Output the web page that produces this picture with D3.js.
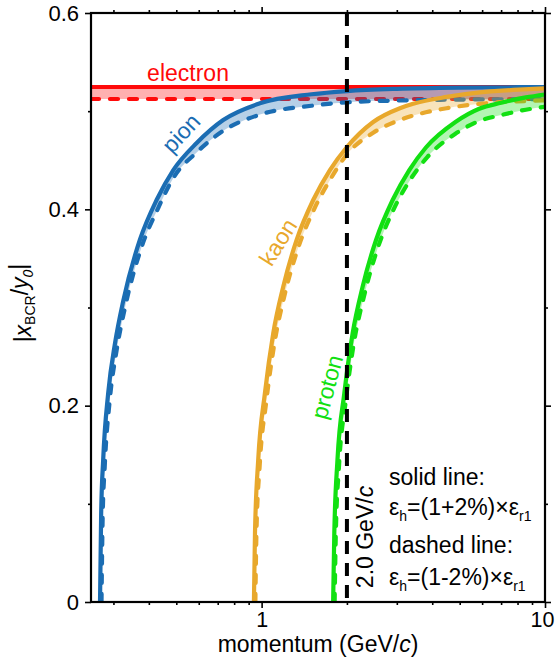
<!DOCTYPE html>
<html>
<head>
<meta charset="utf-8">
<script src="https://d3js.org/d3.v7.min.js"></script>
<style>
  body { margin: 0; background: #fff; }
  svg { display: block; }
  text { font-family: "Liberation Sans", Arial, Helvetica, sans-serif; }
</style>
</head>
<body>
<svg id="chart" width="555" height="659"></svg>
<script>
// ---------------- DATA ----------------
const xDomain = [0.25, 10];
const yDomain = [0, 0.6];

const xMinorTicks = [0.3, 0.4, 0.5, 0.6, 0.7, 0.8, 0.9, 2, 3, 4, 5, 6, 7, 8, 9];
const xMajorTicks = [1, 10];
const xMajorLabels = ["1", "10"];
const yMinorTicks = [0.1, 0.3, 0.5];
const yMajorTicks = [0, 0.2, 0.4, 0.6];
const yMajorLabels = ["0", "0.2", "0.4", "0.6"];

const markerMomentum = 2.0;
const markerLabel = "2.0 GeV/";

const particles = ["electron", "pion", "kaon", "proton"];
const particleColors = ["#ff0a0a", "#1b6db3", "#e8a82c", "#12e012"];

// [momentum GeV/c, |x_BCR/y0|]  solid: eps_h=(1+2%)eps_r1, dashed: eps_h=(1-2%)eps_r1
const electronSolid  = [[0.25, 0.5246], [10, 0.5246]];
const electronDashed = [[0.25, 0.5124], [10, 0.5124]];

const pionSolid = [[0.269,0],[0.2715,0.09],[0.276,0.145],[0.2875,0.213],[0.304,0.264],[0.325,0.307],
  [0.372,0.369],[0.426,0.4095],[0.488,0.440],[0.59,0.4676],[0.732,0.491],[0.986,0.508],[1.5,0.5172],
  [2,0.5205],[3,0.5228],[5,0.524],[10,0.5245]];
const pionDashed = [[0.2723,0],[0.2748,0.085],[0.2795,0.138],[0.291,0.205],[0.3077,0.256],[0.329,0.299],
  [0.3765,0.361],[0.431,0.401],[0.488,0.432],[0.59,0.458],[0.732,0.480],[0.986,0.4965],[1.5,0.5055],
  [2,0.509],[3,0.5108],[5,0.5118],[10,0.5123]];

const kaonSolid = [[0.9394,0],[0.9475,0.07],[0.9727,0.1447],[1.027,0.2126],[1.099,0.2737],[1.192,0.3212],
  [1.329,0.3688],[1.521,0.4095],[1.742,0.440],[1.994,0.463],[2.476,0.489],[3.076,0.503],[3.427,0.5075],
  [4.496,0.5145],[5.891,0.5192],[7.723,0.5216],[10,0.5233]];
const kaonDashed = [[0.9505,0],[0.9588,0.07],[0.9845,0.139],[1.0395,0.205],[1.112,0.265],[1.206,0.313],
  [1.345,0.3605],[1.54,0.4015],[1.76,0.432],[1.994,0.4555],[2.476,0.478],[3.076,0.491],[3.427,0.4955],
  [4.496,0.503],[5.891,0.5075],[7.723,0.5098],[10,0.511]];

const protonSolid = [[1.788,0],[1.805,0.07],[1.852,0.1447],[1.958,0.2126],[2.095,0.2737],[2.272,0.3212],
  [2.534,0.3688],[2.90,0.4095],[3.32,0.440],[3.80,0.463],[4.83,0.489],[5.86,0.5025],[7.0,0.5085],
  [8.56,0.514],[10,0.517]];
const protonDashed = [[1.81,0],[1.827,0.068],[1.875,0.138],[1.982,0.205],[2.12,0.265],[2.30,0.312],
  [2.565,0.360],[2.935,0.401],[3.36,0.431],[3.85,0.4535],[4.83,0.477],[5.86,0.490],[7.0,0.496],
  [8.56,0.5015],[10,0.5045]];

const seriesSolid = [electronSolid, pionSolid, kaonSolid, protonSolid];
const seriesDashed = [electronDashed, pionDashed, kaonDashed, protonDashed];

// ---------------- CHART ----------------
const svg = d3.select("#chart");
const L = 91, R = 545, T = 13, B = 602;
const x = d3.scaleLog().domain(xDomain).range([L, R]);
const y = d3.scaleLinear().domain(yDomain).range([B, T]);

const defs = svg.append("defs");
defs.append("clipPath").attr("id", "plotclip")
  .append("rect").attr("x", L).attr("y", T).attr("width", R - L).attr("height", B - T);

const line = d3.line().x(d => x(d[0])).y(d => y(d[1])).curve(d3.curveMonotoneX);
const under = d3.area().x(d => x(d[0])).y0(B).y1(d => y(d[1])).curve(d3.curveMonotoneX);

const plot = svg.append("g").attr("clip-path", "url(#plotclip)");

particles.forEach((name, i) => {
  const col = particleColors[i];
  const m = defs.append("mask").attr("id", "band-" + name)
    .attr("maskUnits", "userSpaceOnUse")
    .attr("x", 0).attr("y", 0).attr("width", 555).attr("height", 659);
  m.append("path").attr("d", under(seriesSolid[i])).attr("fill", "white");
  m.append("path").attr("d", under(seriesDashed[i])).attr("fill", "black");
  plot.append("rect").attr("x", L).attr("y", T).attr("width", R - L).attr("height", B - T)
    .attr("fill", col).attr("fill-opacity", 0.32).attr("mask", "url(#band-" + name + ")");
  plot.append("path").attr("d", line(seriesSolid[i]))
    .attr("fill", "none").attr("stroke", col).attr("stroke-width", 4.2);
  plot.append("path").attr("d", line(seriesDashed[i]))
    .attr("fill", "none").attr("stroke", col).attr("stroke-width", 4.2)
    .attr("stroke-dasharray", "8,11").attr("stroke-linecap", "round");
});

// vertical 2 GeV/c marker
plot.append("line")
  .attr("x1", x(markerMomentum)).attr("x2", x(markerMomentum))
  .attr("y1", y(yDomain[1])).attr("y2", y(yDomain[0]))
  .attr("stroke", "#000").attr("stroke-width", 4).attr("stroke-dasharray", "13,9");

// axes
function styleAxis(g) {
  g.select(".domain").remove();
  g.selectAll(".tick line").attr("stroke", "#000").attr("stroke-width", 1.6);
  g.selectAll(".tick text").attr("fill", "#000").style("font-size", "22px")
    .style("font-family", '"Liberation Sans", Arial, Helvetica, sans-serif');
}
svg.append("g").attr("transform", `translate(0,${B})`)
  .call(d3.axisBottom(x).tickValues(xMinorTicks).tickSize(3).tickFormat("")).call(styleAxis);
svg.append("g").attr("transform", `translate(0,${B})`)
  .call(d3.axisBottom(x).tickValues(xMajorTicks).tickSize(6).tickPadding(4)
    .tickFormat((d, i) => xMajorLabels[i])).call(styleAxis)
  .selectAll(".tick text").style("font-size", "21.5px").attr("dx", (d, i) => i === 1 ? -3 : 0);
svg.append("g").attr("transform", `translate(0,${T})`)
  .call(d3.axisTop(x).tickValues(xMinorTicks).tickSize(3).tickFormat("")).call(styleAxis);
svg.append("g").attr("transform", `translate(0,${T})`)
  .call(d3.axisTop(x).tickValues(xMajorTicks).tickSize(6).tickFormat("")).call(styleAxis);

svg.append("g").attr("transform", `translate(${L},0)`)
  .call(d3.axisLeft(y).tickValues(yMinorTicks).tickSize(3).tickFormat("")).call(styleAxis);
svg.append("g").attr("transform", `translate(${L},0)`)
  .call(d3.axisLeft(y).tickValues(yMajorTicks).tickSize(6).tickPadding(6)
    .tickFormat((d, i) => yMajorLabels[i])).call(styleAxis);
svg.append("g").attr("transform", `translate(${R},0)`)
  .call(d3.axisRight(y).tickValues(yMinorTicks).tickSize(3).tickFormat("")).call(styleAxis);
svg.append("g").attr("transform", `translate(${R},0)`)
  .call(d3.axisRight(y).tickValues(yMajorTicks).tickSize(6).tickFormat("")).call(styleAxis);

// frame
svg.append("rect").attr("x", L).attr("y", T).attr("width", R - L).attr("height", B - T)
  .attr("fill", "none").attr("stroke", "#000").attr("stroke-width", 2.2);

// axis titles
const xt = svg.append("text").attr("x", (L + R) / 2).attr("y", 652)
  .attr("text-anchor", "middle").style("font-size", "23px");
xt.append("tspan").text("momentum (GeV/");
xt.append("tspan").style("font-style", "italic").text("c");
xt.append("tspan").text(")");

const yt = svg.append("text").attr("transform", "translate(31,303) rotate(-90)")
  .attr("text-anchor", "middle").style("font-size", "23px");
yt.append("tspan").text("|");
yt.append("tspan").style("font-style", "italic").text("x");
yt.append("tspan").attr("dy", "0.3em").style("font-size", "14px").text("BCR");
yt.append("tspan").attr("dy", "-0.3em").text("/");
yt.append("tspan").style("font-style", "italic").text("y");
yt.append("tspan").attr("dy", "0.3em").style("font-size", "14px").style("font-style", "italic").text("0");
yt.append("tspan").attr("dy", "-0.3em").text("|");

// curve labels
const labelPos = [
  {t: "electron", x: 188, y: 81, r: 0},
  {t: "pion", x: 181, y: 133, r: -47},
  {t: "kaon", x: 278, y: 242, r: -58},
  {t: "proton", x: 327, y: 387, r: -75}
];
labelPos.forEach((p, i) => {
  svg.append("text").attr("transform", `translate(${p.x},${p.y}) rotate(${p.r})`)
    .attr("text-anchor", "middle").attr("dy", p.r === 0 ? 0 : "0.35em")
    .attr("fill", particleColors[i]).style("font-size", "23px").text(p.t);
});

// marker label
const ml = svg.append("text").attr("transform", "translate(373,537) rotate(-90)")
  .attr("text-anchor", "middle").style("font-size", "23px");
ml.append("tspan").text(markerLabel);
ml.append("tspan").style("font-style", "italic").text("c");

// legend notes
function epsLine(yPos, sign) {
  const t = svg.append("text").attr("x", 389).attr("y", yPos).style("font-size", "23px");
  t.append("tspan").text("ε");
  t.append("tspan").attr("dy", 6).style("font-size", "14px").text("h");
  t.append("tspan").attr("dy", -6).text("=(1" + sign + "2%)×ε");
  t.append("tspan").attr("dy", 6).style("font-size", "14px").text("r1");
}
svg.append("text").attr("x", 389).attr("y", 485).style("font-size", "23px").text("solid line:");
epsLine(515, "+");
svg.append("text").attr("x", 389).attr("y", 553).style("font-size", "23px").text("dashed line:");
epsLine(585, "-");
</script>
</body>
</html>
